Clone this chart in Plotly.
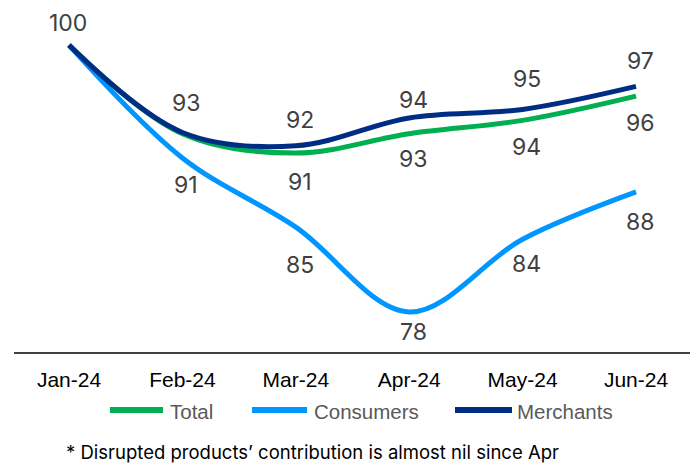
import plotly.graph_objects as go

months = ["Jan-24", "Feb-24", "Mar-24", "Apr-24", "May-24", "Jun-24"]
total = [100, 92.7, 91.1, 92.7, 93.8, 95.8]
consumers = [100, 90.7, 85.0, 78.0, 84.0, 87.9]
merchants = [100, 92.8, 91.7, 94.0, 94.7, 96.6]

# data-label vertical offsets in px (positive = above line, None = no label)
total_lbl = [None, None, -29, -25, -27, -27]
consumers_lbl = [None, -27, -38, -20, -25, -30]
merchants_lbl = [22, 29, 26, 18, 30, 25]

series = [
    ("Total", total, total_lbl, "#00B050"),
    ("Consumers", consumers, consumers_lbl, "#0096FF"),
    ("Merchants", merchants, merchants_lbl, "#002D84"),
]

W, H = 698, 466
ml, mr, mt, mb = 14, 8, 10, 114
pw, ph = W - ml - mr, H - mt - mb


def px_x(x):
    return (x - ml) / pw


def px_y(y):
    return (H - mb - y) / ph


fig = go.Figure()
annotations = []
for name, vals, lbl, color in series:
    fig.add_trace(go.Scatter(
        x=months, y=vals, name=name, mode="lines",
        line=dict(color=color, width=5, shape="spline", smoothing=1.0),
        hoverinfo="skip", showlegend=False,
    ))
    for i, (m, v, off) in enumerate(zip(months, vals, lbl)):
        if off is None:
            continue
        annotations.append(dict(
            x=m, y=v, xref="x", yref="y", text=str(round(v)),
            showarrow=False, yshift=off, xshift=(-1 if i == 0 else 4),
            font=dict(family="Inter, Noto Sans, sans-serif", size=23, color="#404040"),
        ))

annotations.append(dict(
    x=px_x(64), y=px_y(452), xref="paper", yref="paper",
    xanchor="left", yanchor="middle",
    text="* Disrupted products\u2019 contribution is almost nil since Apr",
    showarrow=False,
    font=dict(family="Inter, Liberation Sans, sans-serif", size=18.5, color="#000000"),
))

# custom legend (line swatch + label)
legend_items = [(110, 163, 168), (252, 307, 312), (455, 512, 515)]
shapes = []
for (name, _, _, color), (x0, x1, tx) in zip(series, legend_items):
    shapes.append(dict(
        type="line", xref="paper", yref="paper",
        x0=px_x(x0), x1=px_x(x1), y0=px_y(410), y1=px_y(410),
        line=dict(color=color, width=6),
    ))
    annotations.append(dict(
        x=px_x(tx), y=px_y(411), xref="paper", yref="paper",
        xanchor="left", yanchor="middle", text=name, showarrow=False,
        font=dict(family="Liberation Sans, Arial, sans-serif", size=20.5, color="#595959"),
    ))

fig.update_layout(
    width=W, height=H,
    margin=dict(l=ml, r=mr, t=mt, b=mb, autoexpand=False),
    paper_bgcolor="white", plot_bgcolor="white",
    showlegend=False,
    xaxis=dict(
        type="category", range=[-0.485, 5.476], automargin=False,
        showgrid=False, zeroline=False,
        showline=True, linecolor="#404040", linewidth=2,
        ticks="", ticklabelstandoff=8,
        tickfont=dict(family="Liberation Sans, Arial, sans-serif", size=21, color="#000000"),
    ),
    yaxis=dict(
        range=[74.7, 102.9], visible=False, showgrid=False, zeroline=False, automargin=False,
    ),
    annotations=annotations,
    shapes=shapes,
)

fig.write_html(
    "out.html",
    config={"displayModeBar": False},
    post_script="document.body.style.margin='0';document.body.style.overflow='hidden';",
)
